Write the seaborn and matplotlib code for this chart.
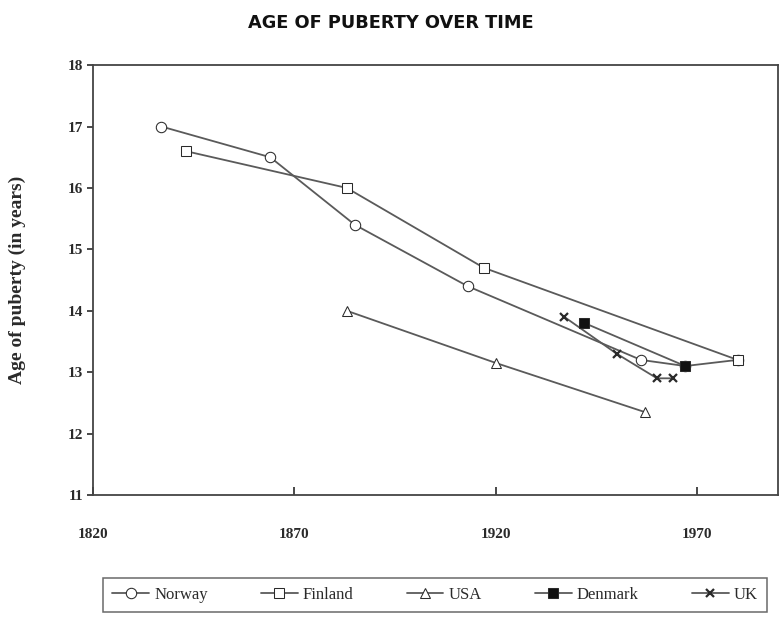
import matplotlib
matplotlib.use("Agg")
import matplotlib.pyplot as plt
import seaborn as sns
import pandas as pd

# values
norway_years = [1837, 1864, 1885, 1913, 1956, 1967, 1980]
norway_ages = [17.0, 16.5, 15.4, 14.4, 13.2, 13.1, 13.2]

finland_years = [1843, 1883, 1917, 1980]
finland_ages = [16.6, 16.0, 14.7, 13.2]

usa_years = [1883, 1920, 1957]
usa_ages = [14.0, 13.15, 12.35]

denmark_years = [1942, 1967]
denmark_ages = [13.8, 13.1]

uk_years = [1937, 1950, 1960, 1964]
uk_ages = [13.9, 13.3, 12.9, 12.9]

countries = ["Norway", "Finland", "USA", "Denmark", "UK"]
x_ticks = [1820, 1870, 1920, 1970]
y_ticks = [11, 12, 13, 14, 15, 16, 17, 18]

series = {
    "Norway": (norway_years, norway_ages),
    "Finland": (finland_years, finland_ages),
    "USA": (usa_years, usa_ages),
    "Denmark": (denmark_years, denmark_ages),
    "UK": (uk_years, uk_ages),
}

styles = {
    "Norway": dict(marker="o", markersize=7.5, markerfacecolor="white"),
    "Finland": dict(marker="s", markersize=7.5, markerfacecolor="white"),
    "USA": dict(marker="^", markersize=7, markerfacecolor="white"),
    "Denmark": dict(marker="s", markersize=7, markerfacecolor="#111111"),
    "UK": dict(marker="x", markersize=6, markeredgewidth=1.6),
}
draw_order = ["Norway", "USA", "UK", "Denmark", "Finland"]

sns.set_theme(style="white")
plt.rcParams["font.family"] = ["Liberation Serif", "DejaVu Serif"]

ink = "#2a2a2a"
line_col = "#5a5a5a"

fig = plt.figure(figsize=(7.81, 6.20), dpi=100)
ax = fig.add_axes([0.119, 0.2016, 0.877, 0.6934])

for name in draw_order:
    yrs, ages = series[name]
    df = pd.DataFrame({"Year": yrs, "Age": ages})
    sns.lineplot(data=df, x="Year", y="Age", ax=ax, sort=False, color=line_col,
                 linewidth=1.3, markeredgecolor=ink, label=name, **styles[name])

ax.set_xlim(1820, 1990)
ax.set_ylim(11, 18)
ax.set_xticks(x_ticks)
ax.set_yticks(y_ticks)
ax.set_xticklabels([str(t) for t in x_ticks], fontsize=11, fontweight="bold", color=ink)
ax.set_yticklabels([str(t) for t in y_ticks], fontsize=11, fontweight="bold", color=ink)
ax.tick_params(axis="x", direction="in", length=6, width=1.2, pad=24, colors=ink)
ax.tick_params(axis="y", direction="out", length=4, width=1.2, pad=3, colors=ink)
ax.tick_params(axis="x", bottom=True)
ax.tick_params(axis="y", left=True)
ax.set_xlabel("")
ax.set_ylabel("Age of puberty (in years)", fontsize=14, fontweight="bold", color=ink, labelpad=30)

for side in ["left", "bottom", "top", "right"]:
    ax.spines[side].set_visible(True)
    ax.spines[side].set_color("#444444")
    ax.spines[side].set_linewidth(1.3)

ax.get_legend().remove()
handles, labels = ax.get_legend_handles_labels()
order = [labels.index(c) for c in countries]
leg = fig.legend([handles[i] for i in order], countries, loc="center",
                 bbox_to_anchor=(0.557, 0.040), ncol=5, frameon=True, fancybox=False,
                 edgecolor="#444444", fontsize=12, handlelength=2.2, handletextpad=0.3,
                 columnspacing=3.2, borderpad=0.55)
leg.get_frame().set_linewidth(1.1)
for t in leg.get_texts():
    t.set_color(ink)

fig.text(0.5, 0.963, "AGE OF PUBERTY OVER TIME", ha="center", va="center",
         fontsize=12.8, fontweight="bold", color="#111111", family=["DejaVu Sans"])

fig.savefig("out.png", dpi=100, facecolor="white")
